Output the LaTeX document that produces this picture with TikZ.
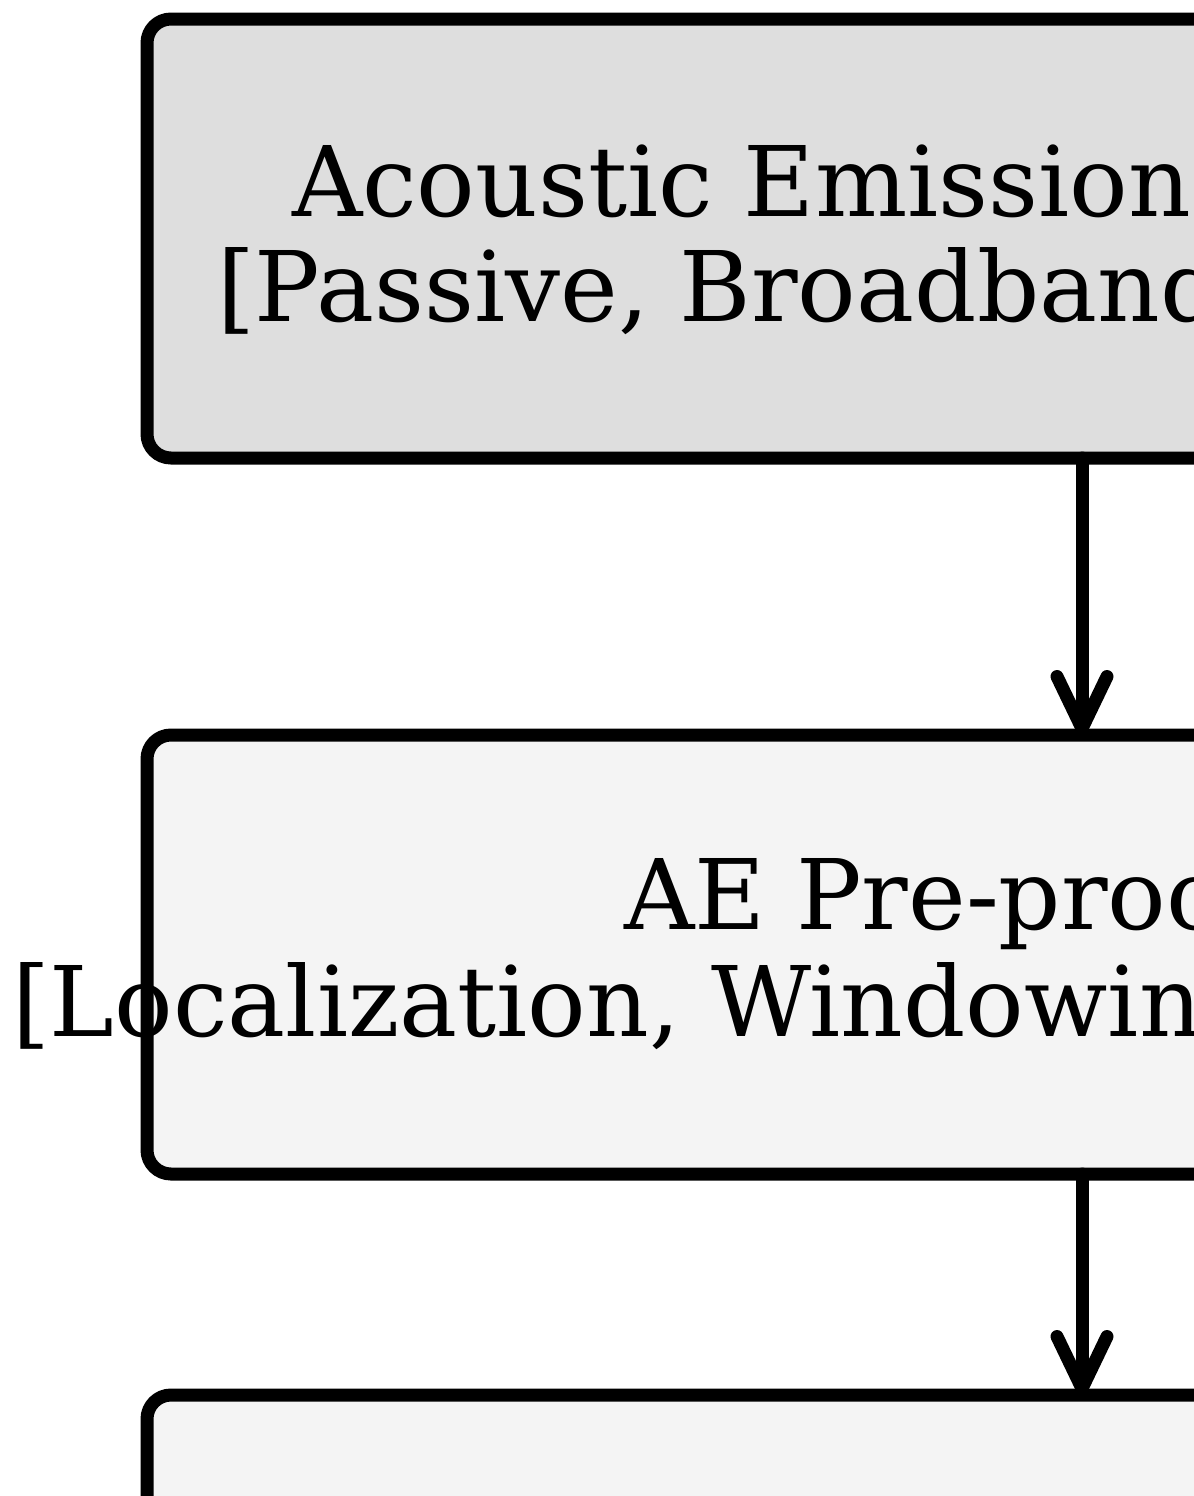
\documentclass[tikz,border=0pt]{standalone}
\usepackage{fontspec}
\setmainfont{DejaVu Serif}
\usetikzlibrary{arrows.meta}
\definecolor{boxdark}{HTML}{DEDEDE}
\definecolor{boxlight}{HTML}{F4F4F4}
\tikzset{
  stage/.style={draw=black, line width=6.5pt, rounded corners=12pt, outer sep=0pt,
    minimum width=935pt, minimum height=219.5pt, inner sep=0pt},
  label/.style={anchor=base west, inner sep=0pt, outer sep=0pt,
    font=\fontsize{48.7pt}{54pt}\selectfont},
  flow/.style={line width=6.5pt, line cap=round,
    -{Straight Barb[length=26pt, width=25pt, round]}}
}
\begin{document}
\begin{tikzpicture}[x=0.5pt, y=-0.5pt]
\useasboundingbox (0,0) rectangle (1194,1496);
\fill[white] (0,0) rectangle (1194,1496);
\clip (0,0) rectangle (1194,1496);
\node[stage, fill=boxdark] (b1) at (1082,238.5) {};
\node[stage, fill=boxlight] (b2) at (1082,954.5) {};
\node[stage, fill=boxlight] (b3) at (1082,1614.5) {};
\draw[flow] (b1.south) -- (b2.north);
\draw[flow] (b2.south) -- (b3.north);
\node[label] (t1a) at (292,216) {Acoustic Emission};
\node[label] (t1b) at (217,321) {[Passive, Broadband};
\node[label] (t2a) at (624,929) {AE Pre-proc};
\node[label] (t2b) at (12,1036) {[Localization, Windowin};
\end{tikzpicture}
\end{document}
